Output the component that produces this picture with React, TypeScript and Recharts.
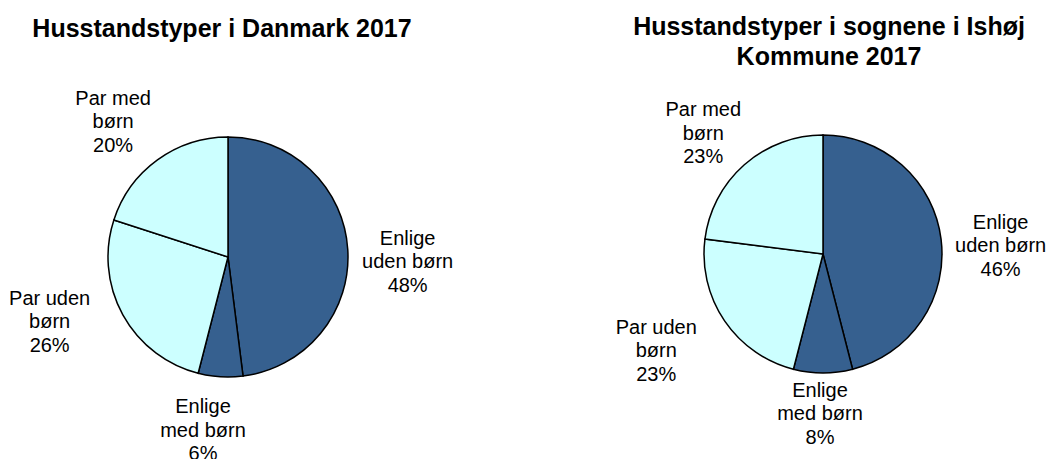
import { PieChart, Pie, Cell } from 'recharts';

const categories = ['Enlige\nuden børn', 'Enlige\nmed børn', 'Par uden\nbørn', 'Par med\nbørn'];
const denmarkValues = [48, 6, 26, 20];
const ishojValues = [46, 8, 23, 23];

const sliceColors = ['#36608f', '#36608f', '#ccffff', '#ccffff'];
// small nudges so labels sit where the original put them
const denmarkNudge = [[5, 15], [-14, -2], [-25, -20], [-12, 6]];
const ishojNudge = [[4, 13], [-3, -16], [-22, -2], [-4, 10]];

const FONT = 'Arial, "Liberation Sans", sans-serif';
const LABEL_DIST = 175;
const LINE_H = 23.5;

const toRows = (values: number[]) =>
  categories.map((name, i) => ({ name, value: values[i] }));

const makeLabel = (nudge: number[][]) => (props: any) => {
  const { cx, cy, midAngle, index, payload } = props;
  const rad = (-midAngle * Math.PI) / 180;
  const x = cx + LABEL_DIST * Math.cos(rad) + nudge[index][0];
  const y = cy + LABEL_DIST * Math.sin(rad) + nudge[index][1];
  const lines = [...String(payload.name).split('\n'), `${payload.value}%`];
  return (
    <text x={x} y={y - LINE_H} textAnchor="middle" fontSize={20} fontFamily={FONT} fill="#000">
      {lines.map((l, i) => (
        <tspan key={i} x={x} dy={i === 0 ? '0.35em' : LINE_H}>
          {l}
        </tspan>
      ))}
    </text>
  );
};

export default function App() {
  return (
    <div style={{ position: 'absolute', left: 0, top: 0, width: 1052, height: 459, background: '#fff' }}>
      <PieChart width={1052} height={459} margin={{ top: 0, right: 0, bottom: 0, left: 0 }}>
        <Pie
          data={toRows(denmarkValues)}
          dataKey="value"
          cx={228}
          cy={257}
          outerRadius={120}
          startAngle={90}
          endAngle={-270}
          stroke="#000"
          strokeWidth={1.5}
          labelLine={false}
          label={makeLabel(denmarkNudge)}
          isAnimationActive={false}
        >
          {denmarkValues.map((_, i) => (
            <Cell key={i} fill={sliceColors[i]} />
          ))}
        </Pie>
        <Pie
          data={toRows(ishojValues)}
          dataKey="value"
          cx={823}
          cy={254}
          outerRadius={119}
          startAngle={90}
          endAngle={-270}
          stroke="#000"
          strokeWidth={1.5}
          labelLine={false}
          label={makeLabel(ishojNudge)}
          isAnimationActive={false}
        >
          {ishojValues.map((_, i) => (
            <Cell key={i} fill={sliceColors[i]} />
          ))}
        </Pie>
      </PieChart>
      <svg width={1052} height={459} style={{ position: 'absolute', left: 0, top: 0, pointerEvents: 'none' }}>
        <g fontFamily={FONT} fontWeight="bold" fontSize={25} textAnchor="middle" fill="#000">
          <text x={222} y={37}>Husstandstyper i Danmark 2017</text>
          <text x={829} y={35}>Husstandstyper i sognene i Ishøj</text>
          <text x={829} y={65}>Kommune 2017</text>
        </g>
      </svg>
    </div>
  );
}
